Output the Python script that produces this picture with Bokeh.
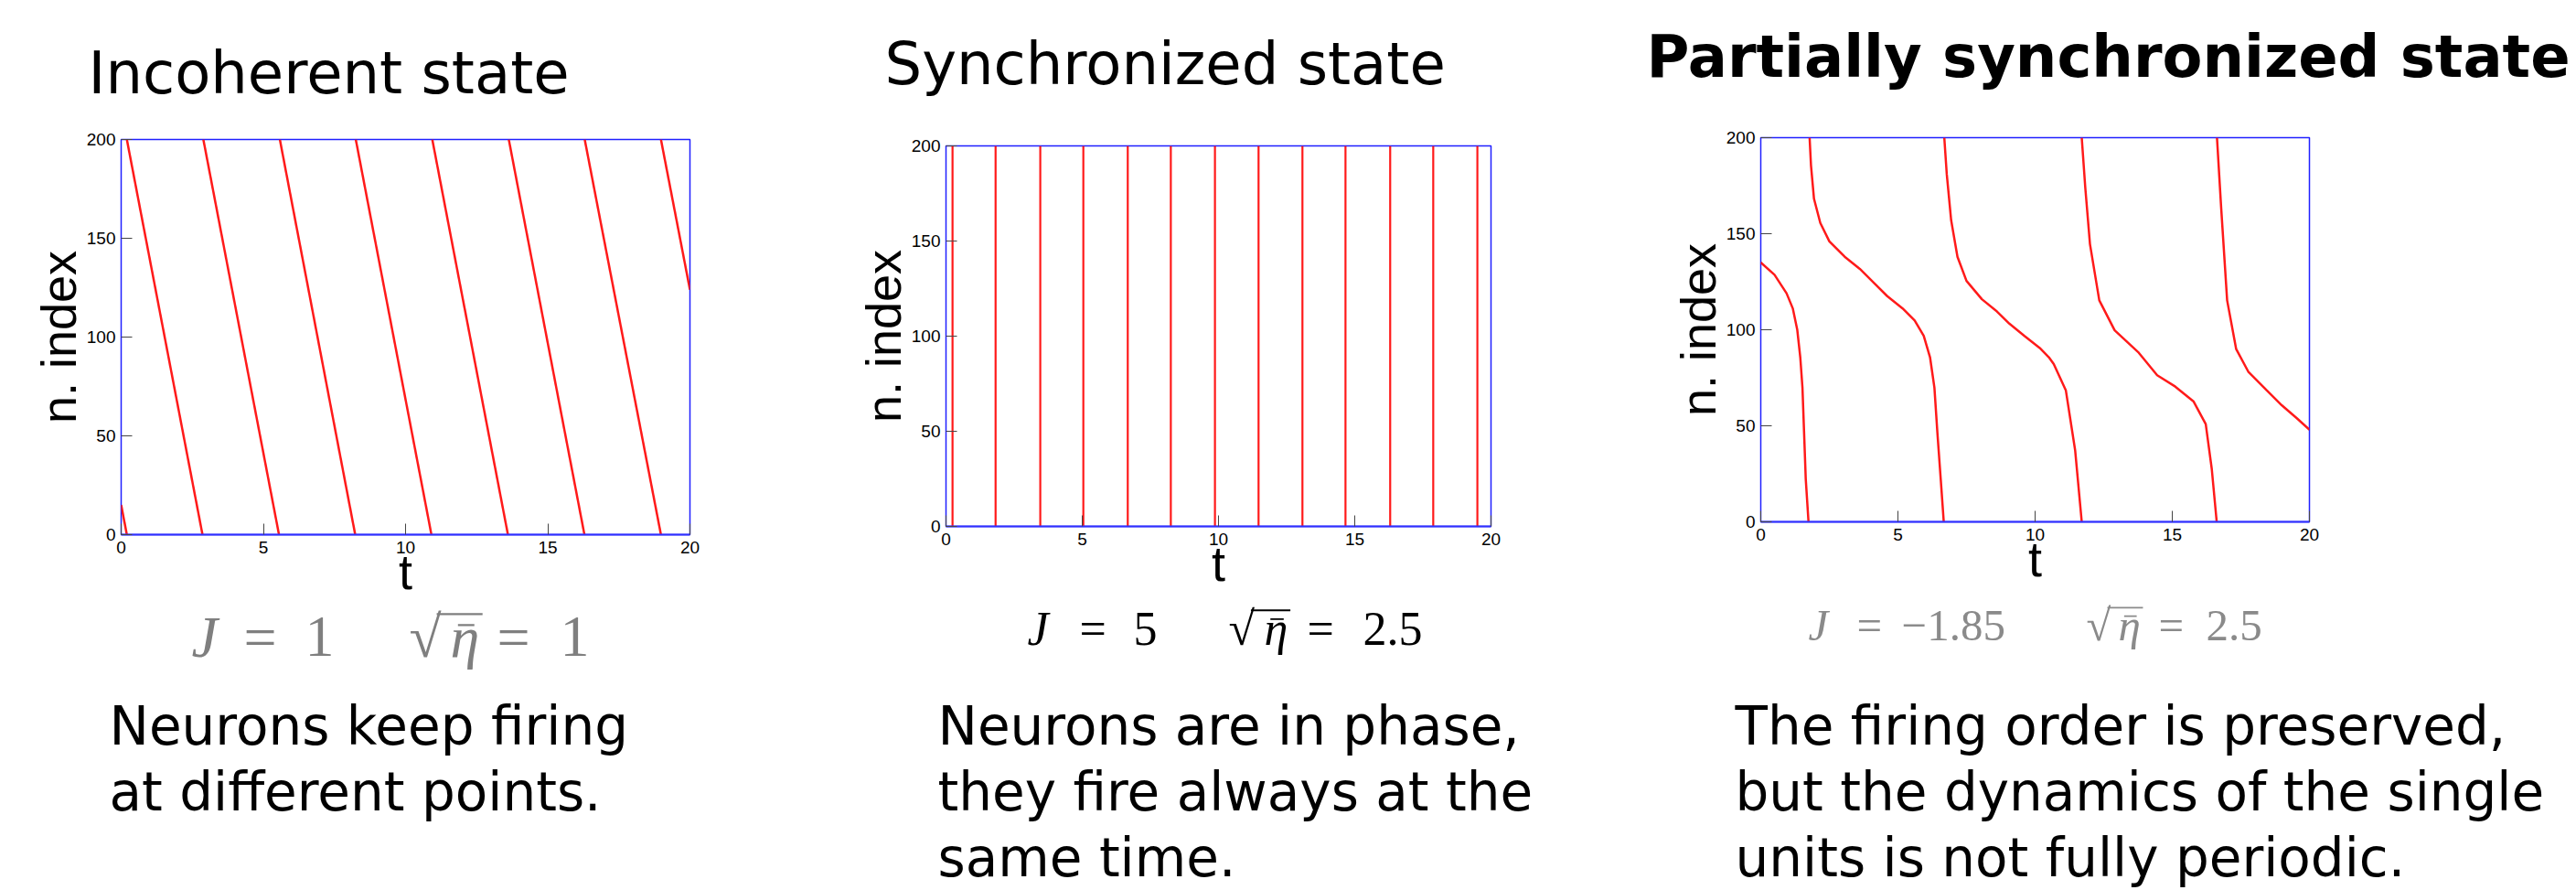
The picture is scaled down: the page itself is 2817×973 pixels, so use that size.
from bokeh.plotting import figure
from bokeh.layouts import row, column
from bokeh.models import FixedTicker
from bokeh.core.properties import value
from bokeh.embed import file_html
from bokeh.resources import INLINE

# ---------------- data ----------------
# Incoherent state: each spike wave runs from (t_start, n_start) to (t_end, n_end)
inc_t_start = [0.00, 0.20, 2.89, 5.58, 8.25, 10.94, 13.63, 16.30, 18.98]
inc_n_start = [15, 200, 200, 200, 200, 200, 200, 200, 200]
inc_t_end = [0.20, 2.86, 5.55, 8.23, 10.91, 13.60, 16.29, 18.98, 20.00]
inc_n_end = [0, 0, 0, 0, 0, 0, 0, 0, 124]

# Synchronized state: the whole population fires at these times
sync_t = [0.24, 1.82, 3.46, 5.04, 6.67, 8.25, 9.87, 11.47, 13.08, 14.66, 16.30, 17.88, 19.50]

# Partially synchronized state: firing fronts (time, neuron index)
ps_t = [
    [0.00, 0.50, 0.94, 1.17, 1.33, 1.44, 1.52, 1.58, 1.64, 1.74],
    [1.78, 1.83, 1.94, 2.17, 2.50, 3.06, 3.61, 4.17, 4.61, 5.17, 5.61, 5.94, 6.17, 6.33, 6.44, 6.56, 6.67],
    [6.69, 6.78, 6.94, 7.17, 7.50, 8.06, 8.61, 9.06, 9.61, 10.17, 10.50, 10.68, 11.12, 11.46, 11.70],
    [11.70, 11.83, 12.00, 12.34, 12.90, 13.78, 14.45, 15.11, 15.78, 16.22, 16.44, 16.62],
    [16.63, 16.78, 17.00, 17.33, 17.77, 18.44, 18.99, 19.55, 20.00],
]
ps_n = [
    [135, 128.6, 119, 111, 100, 85.7, 69.8, 46, 22.2, 0],
    [200, 185.7, 168.2, 155.6, 146, 138, 131.7, 123.8, 117.5, 111.1, 104.8, 96.8, 85.7, 69.8, 46, 22.2, 0],
    [200, 181, 157, 138, 125.4, 115.9, 109.5, 103.2, 96.8, 90.5, 85.7, 82.1, 68.5, 37.2, 0],
    [200, 173.8, 144.6, 115.3, 99.7, 88, 76.3, 70.4, 62.6, 50.9, 27.5, 0],
    [200, 164, 115.3, 89.9, 78.2, 68.5, 60.7, 53.8, 48],
]

x_ticks = [0, 5, 10, 15, 20]
y_ticks = [0, 50, 100, 150, 200]

titles = ["Incoherent state", "Synchronized state", "Partially synchronized state"]
descriptions = [
    ["Neurons keep firing", "at different points."],
    ["Neurons are in phase,", "they fire always at the", "same time."],
    ["The firing order is preserved,", "but the dynamics of the single", "units is not fully periodic."],
]

RED = "#ff1a1a"
SANS = "DejaVu Sans"
SERIF = "Liberation Serif"
PAGE_H = 973
TOP_H = 135
LINE_GAP = 72


def text_fig(x0, width, y0, height):
    """Plain canvas whose data coordinates are page pixels (y grows downward)."""
    f = figure(width=width, height=height, output_backend="svg", toolbar_location=None,
               x_range=(x0, x0 + width), y_range=(y0 + height, y0),
               min_border=0, x_axis_location=None, y_axis_location=None,
               frame_align=False, title=None)
    f.outline_line_color = None
    f.grid.visible = False
    f.background_fill_color = "white"
    f.border_fill_color = "white"
    return f


def put(f, X, base, text, size, font=SANS, style="normal", color="black"):
    # anchor is the vertical middle of the text box; shift it up from the baseline
    f.text(x=[X], y=[base - 0.345 * size], text=[text], text_font=value(font),
           text_font_size=value(f"{size}px"), text_font_style=value(style),
           text_color=color, text_baseline=value("middle"), text_align="left")


def plot_fig(width, height, left, right, top, bottom):
    p = figure(width=width, height=height, output_backend="svg", toolbar_location=None,
               x_range=(0, 20), y_range=(0, 200), title=None,
               min_border_left=left, min_border_right=width - right,
               min_border_top=top, min_border_bottom=height - bottom,
               x_axis_label="t", y_axis_label="n. index", frame_align=False)
    p.background_fill_color = "white"
    p.border_fill_color = "white"
    p.outline_line_color = "#2020ff"
    p.outline_line_width = 1.5
    p.grid.visible = False
    p.xaxis.ticker = FixedTicker(ticks=x_ticks)
    p.yaxis.ticker = FixedTicker(ticks=y_ticks)
    for ax in (p.xaxis, p.yaxis):
        ax.axis_line_color = None
        ax.major_tick_in = 12
        ax.major_tick_out = 0
        ax.major_tick_line_color = "#444444"
        ax.major_tick_line_width = 1
        ax.minor_tick_line_color = None
        ax.major_label_text_font = "Liberation Sans"
        ax.major_label_text_font_size = "19px"
        ax.major_label_text_color = "black"
        ax.axis_label_text_font = "Liberation Sans"
        ax.axis_label_text_font_size = "54px"
        ax.axis_label_text_font_style = "normal"
        ax.axis_label_text_color = "black"
    p.xaxis.axis_line_color = "#3030ff"
    p.xaxis.axis_line_width = 2
    p.yaxis.major_label_standoff = 6
    p.xaxis.major_label_standoff = 7
    p.yaxis.axis_label_standoff = -2
    p.xaxis.axis_label_standoff = -13
    return p


def formula(f, base, size, color, xs, j_val, eta_val, bar_w):
    """J = value    sqrt(eta-bar) = value, written piece by piece."""
    xj, xeq1, xv1, xroot, xeta, xeq2, xv2 = xs
    put(f, xj, base, "J", size, SERIF, "italic", color)
    put(f, xeq1, base, "=", size, SERIF, "normal", color)
    put(f, xv1, base, j_val, size, SERIF, "normal", color)
    put(f, xroot, base, "√", size, SERIF, "normal", color)
    put(f, xeta, base, "η", size, SERIF, "italic", color)
    put(f, xeq2, base, "=", size, SERIF, "normal", color)
    put(f, xv2, base, eta_val, size, SERIF, "normal", color)
    # vinculum of the root and the bar over eta
    top = base - 0.737 * size
    f.segment(x0=[xroot + 0.47 * size], y0=[top], x1=[xeta + 0.55 * size], y1=[top],
              line_color=color, line_width=bar_w)
    mac = base - 0.55 * size
    f.segment(x0=[xeta + 0.13 * size], y0=[mac], x1=[xeta + 0.41 * size], y1=[mac],
              line_color=color, line_width=bar_w * 0.9)


columns = []

# ---------------- panel 1: incoherent ----------------
x0, w, plot_bottom = 0, 900, 660
t1 = text_fig(x0, w, 0, TOP_H)
put(t1, 96, 102, titles[0], 64)
p1 = plot_fig(w, plot_bottom - TOP_H, 132, 754, 152 - TOP_H, 584 - TOP_H)
p1.segment(x0=inc_t_start, y0=inc_n_start, x1=inc_t_end, y1=inc_n_end,
           line_color=RED, line_width=2.5)
b1 = text_fig(x0, w, plot_bottom, PAGE_H - plot_bottom)
formula(b1, 718, 64, "#7f7f7f", (209, 266, 333, 447, 492, 543, 612), "1", "1", 2.4)
for i, line in enumerate(descriptions[0]):
    put(b1, 119, 814 + i * LINE_GAP, line, 58)
columns.append(column(t1, p1, b1))

# ---------------- panel 2: synchronized ----------------
x0, w, plot_bottom = 900, 880, 655
t2 = text_fig(x0, w, 0, TOP_H)
put(t2, 967, 92, titles[1], 64)
p2 = plot_fig(w, plot_bottom - TOP_H, 134, 730, 159 - TOP_H, 575 - TOP_H)
p2.segment(x0=sync_t, y0=[0] * len(sync_t), x1=sync_t, y1=[200] * len(sync_t),
           line_color=RED, line_width=2.2)
b2 = text_fig(x0, w, plot_bottom, PAGE_H - plot_bottom)
formula(b2, 705, 52, "black", (1123, 1180, 1239, 1343, 1382, 1429, 1490), "5", "2.5", 2.0)
for i, line in enumerate(descriptions[1]):
    put(b2, 1025, 814 + i * LINE_GAP, line, 58)
columns.append(column(t2, p2, b2))

# ---------------- panel 3: partially synchronized ----------------
x0, w, plot_bottom = 1780, 1037, 652
t3 = text_fig(x0, w, 0, TOP_H)
put(t3, 1800, 84, titles[2], 64, style="bold")
p3 = plot_fig(w, plot_bottom - TOP_H, 145, 745, 150 - TOP_H, 570 - TOP_H)
p3.multi_line(xs=ps_t, ys=ps_n, line_color=RED, line_width=2.5)
b3 = text_fig(x0, w, plot_bottom, PAGE_H - plot_bottom)
formula(b3, 700, 49, "#8a8a8a", (1977, 2030, 2079, 2281, 2316, 2360, 2412), "−1.85", "2.5", 1.9)
for i, line in enumerate(descriptions[2]):
    put(b3, 1897, 814 + i * LINE_GAP, line, 58)
columns.append(column(t3, p3, b3))

layout = row(*columns)
open("out.html", "w").write(file_html(layout, INLINE))
